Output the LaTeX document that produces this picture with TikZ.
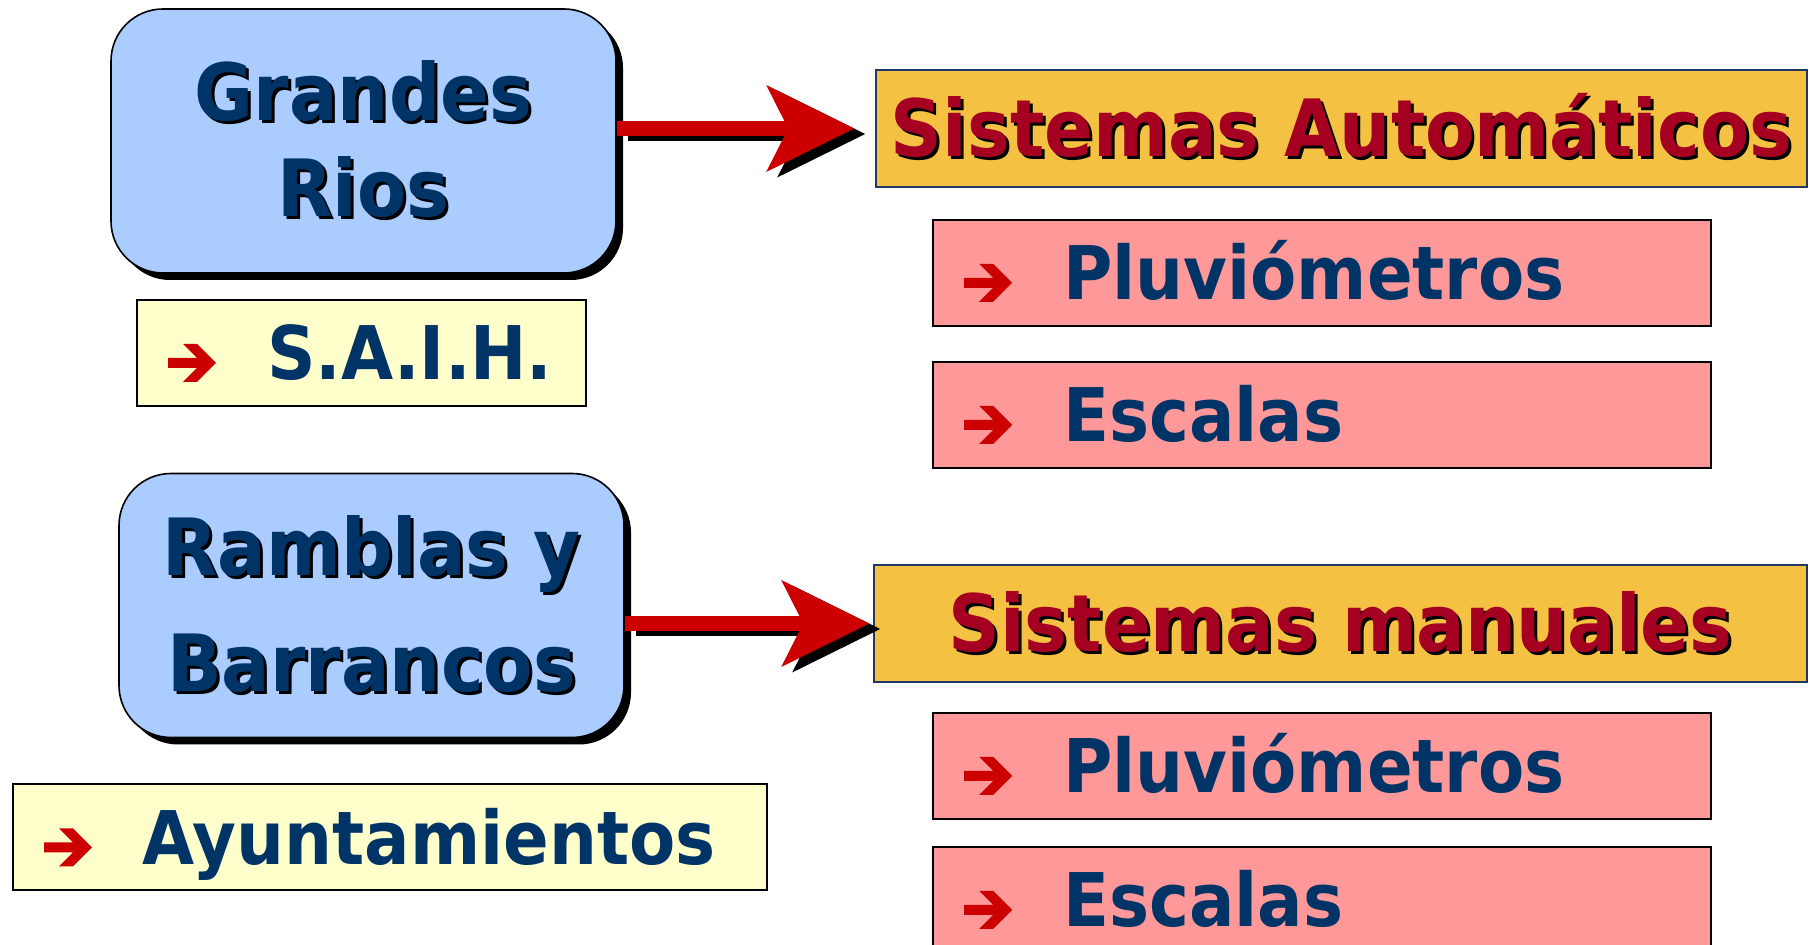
\documentclass[tikz,border=0pt]{standalone}
\usepackage{fontspec}
\usepackage{tikz}
\usetikzlibrary{positioning, arrows.meta, shadows}
\newfontfamily\tahoma{DejaVu Sans}[FakeStretch=0.91]

\definecolor{boxblue}{RGB}{170,204,255}
\definecolor{navy}{RGB}{0,51,102}
\definecolor{gold}{RGB}{244,193,66}
\definecolor{goldedge}{RGB}{31,56,100}
\definecolor{wine}{RGB}{165,0,33}
\definecolor{pinkbox}{RGB}{255,153,153}
\definecolor{cream}{RGB}{255,255,204}
\definecolor{arrowred}{RGB}{204,0,0}

% text with a black shadow behind it
\newcommand{\shadowed}[2]{\makebox[0pt][l]{\hspace{1.5pt}\raisebox{-1.5pt}{\color{black}#2}}\textcolor{#1}{#2}}
% leaves room for the red bullet
\newcommand{\entry}[1]{\hspace*{65pt}#1}

\tikzset{
bigbox/.style={draw=black, line width=0.8pt, fill=boxblue, rounded corners=26pt, minimum width=252.5pt, minimum height=132pt, align=center, font={\tahoma\bfseries\fontsize{39.5}{48}\selectfont}, drop shadow={shadow xshift=3.5pt, shadow yshift=-3.5pt, fill=black, opacity=1}}, % the rounded blue boxes
goldbox/.style={draw=goldedge, line width=0.8pt, fill=gold, minimum width=465.5pt, minimum height=58.5pt, text height=28pt, text depth=0pt, font={\tahoma\bfseries\fontsize{39.5}{48}\selectfont}}, % titles on the right
itembox/.style={draw=black, line width=1pt, fill=#1, minimum height=53pt, inner xsep=0pt, align=left, text height=27pt, text depth=0pt, text=navy, font={\tahoma\bfseries\fontsize{37}{44}\selectfont}}, % boxes with a bullet
bigarrow/.style={line width=7.5pt, draw=arrowred, -{Stealth[length=44pt, width=43.5pt, inset=11pt, line width=0pt]}}, % thick red arrows
arrowshadow/.style={bigarrow, draw=black, transform canvas={shift={(5.5pt,-2.75pt)}}}, % their black shadow
bullet/.pic={\fill[arrowred] (0,5) -- (29,5) -- (15,19) -- (29,19) -- (48,0) -- (29,-19) -- (15,-19) -- (29,-5) -- (0,-5) -- cycle;},
}

\begin{document}
\begin{tikzpicture}[x=0.5pt, y=-0.5pt]
\useasboundingbox (0,0) rectangle (1812,945);
\clip (0,0) rectangle (1812,945);

\node[bigbox] (grandes) at (363.5,141) {\shadowed{navy}{Grandes}\\\shadowed{navy}{Rios}};
\node[itembox=cream, text width=224.5pt, below=12.5pt of grandes, xshift=-1pt] (saih) {\entry{S.A.I.H.}};
\node[bigbox] (ramblas) at (371.5,605.5) {\shadowed{navy}{Ramblas y}\\[10pt]\shadowed{navy}{Barrancos}};
\node[itembox=cream, text width=377pt, below=22.5pt of ramblas, xshift=9.25pt] (ayto) {\entry{Ayuntamientos}};

\node[goldbox] (sisauto) at (1341.5,128.5) {\shadowed{wine}{Sistemas Automáticos}};
\node[itembox=pinkbox, text width=389pt, below right=15.5pt and 28.5pt of sisauto.south west] (pluvA) {\entry{Pluviómetros}};
\node[itembox=pinkbox, text width=389pt, below=17pt of pluvA] (escA) {\entry{Escalas}};
\node[goldbox, minimum width=466.5pt] (sisman) at (1340.5,623.5) {\shadowed{wine}{Sistemas manuales}};
\node[itembox=pinkbox, text width=389pt, below right=14.5pt and 29.5pt of sisman.south west] (pluvB) {\entry{Pluviómetros}};
\node[itembox=pinkbox, text width=389pt, below=13pt of pluvB] (escB) {\entry{Escalas}};

\pic at ([xshift=16pt, yshift=-5pt]saih.west) {bullet};
\pic at ([xshift=16pt, yshift=-5pt]ayto.west) {bullet};
\pic at ([xshift=16pt, yshift=-5pt]pluvA.west) {bullet};
\pic at ([xshift=16pt, yshift=-5pt]escA.west) {bullet};
\pic at ([xshift=16pt, yshift=-5pt]pluvB.west) {bullet};
\pic at ([xshift=16pt, yshift=-5pt]escB.west) {bullet};

\draw[arrowshadow, shorten >=10.5pt] (grandes.east |- sisauto.west) -- (sisauto.west);
\draw[bigarrow, shorten >=10.5pt] (grandes.east |- sisauto.west) -- (sisauto.west);
\draw[arrowshadow, shorten >=2pt] (ramblas.east |- sisman.west) -- (sisman.west);
\draw[bigarrow, shorten >=2pt] (ramblas.east |- sisman.west) -- (sisman.west);
\end{tikzpicture}
\end{document}
